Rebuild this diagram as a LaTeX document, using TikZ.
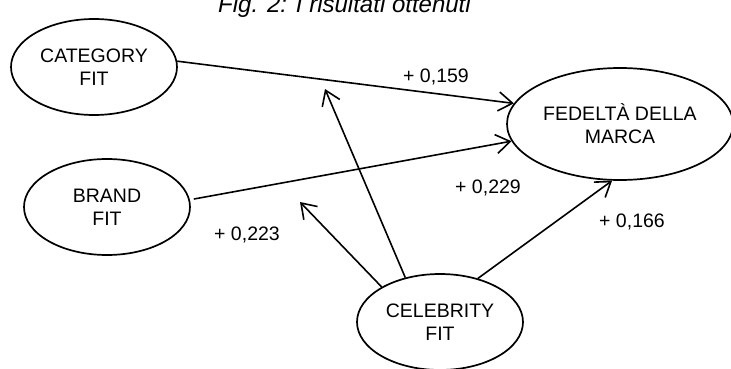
\documentclass[tikz,border=0pt]{standalone}
\usepackage{fontspec}
\setmainfont{Liberation Sans}
\usetikzlibrary{arrows.meta,shapes.geometric}

\begin{document}
\begin{tikzpicture}[x=1pt,y=-1pt,
  every node/.style={font=\fontsize{19.5}{23}\selectfont},
  construct/.style={ellipse,draw,line width=1.7pt,inner sep=0pt,align=center,minimum width=166pt,minimum height=96pt},
  arrow/.style={-{Straight Barb[length=14pt,width=19pt]},line width=1.6pt},
  coef/.style={inner sep=0pt,anchor=base}
]
\useasboundingbox (0,0) rectangle (731,369);
\clip (0,0) rectangle (731,369);

\node[font=\fontsize{24}{28}\selectfont\itshape,anchor=base west,inner sep=0pt] (title) at (218,13) {Fig. 2: I risultati ottenuti};

\node[construct] (cat) at (94,67) {CATEGORY\\FIT};
\node[construct] (brand) at (107,207) {BRAND\\FIT};
\node[construct] (celeb) at (440,322) {CELEBRITY\\FIT};
\node[construct,minimum width=226pt,minimum height=112pt] (fed) at (620,124) {FEDELTÀ DELLA\\MARCA};

\coordinate (catline) at (325,89);
\coordinate (brandline) at (300,202);

\draw[arrow] (cat.4) -- (fed.169);
\draw[arrow,shorten <=4pt] (brand.5) -- (fed.189);
\draw[arrow] (celeb.49) -- (fed.262);
\draw[arrow] (celeb.128) -- (catline);
\draw[arrow] (celeb.149) -- (brandline);

\node[coef] (c159) at (436,82) {+ 0,159};
\node[coef] (c229) at (488,193) {+ 0,229};
\node[coef] (c166) at (632,227) {+ 0,166};
\node[coef] (c223) at (247,240) {+ 0,223};
\end{tikzpicture}
\end{document}
